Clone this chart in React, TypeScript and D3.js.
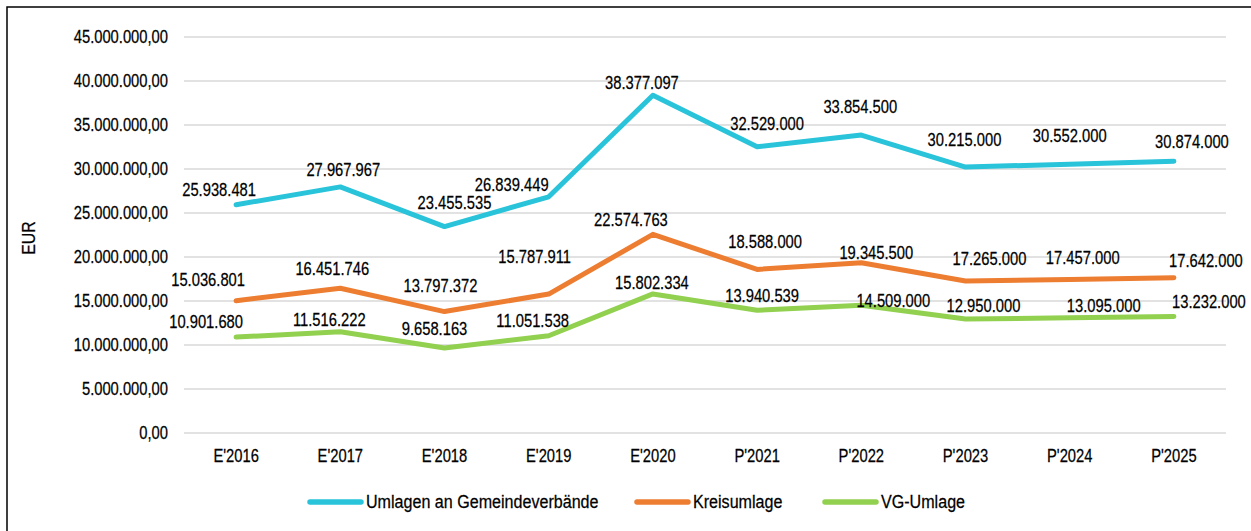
import React from "react";
import * as d3 from "d3";

const categories = ["E'2016", "E'2017", "E'2018", "E'2019", "E'2020", "P'2021", "P'2022", "P'2023", "P'2024", "P'2025"];
const umlagenGemeindeverbaende = [25938481, 27967967, 23455535, 26839449, 38377097, 32529000, 33854500, 30215000, 30552000, 30874000];
const kreisumlage = [15036801, 16451746, 13797372, 15787911, 22574763, 18588000, 19345500, 17265000, 17457000, 17642000];
const vgUmlage = [10901680, 11516222, 9658163, 11051538, 15802334, 13940539, 14509000, 12950000, 13095000, 13232000];
const yTicks = [0, 5000000, 10000000, 15000000, 20000000, 25000000, 30000000, 35000000, 40000000, 45000000];
const seriesNames = ["Umlagen an Gemeindeverbände", "Kreisumlage", "VG-Umlage"];

// label nudges (layout only), in px relative to each point
const cyanLabelDx = [-17, 3, 10, -37, -11, 10, -1, -1, 0, 18];
const cyanLabelDy = [-15, -17, -24, -12, -13, -23, -28, -27, -28, -20];
const orangeLabelDx = [-28, -8, -4, -14, -22, 8, 15, 24, 13, 32];
const orangeLabelDy = [-21, -20, -26, -37, -15, -28, -10, -22, -22, -17];
const greenLabelDx = [-30, -11, -10, -16, -1, 5, 32, 18, 34, 35];
const greenLabelDy = [-15, -12, -19, -15, -11, -15, -5, -13, -12, -15];

const W = 1251;
const H = 531;
const FONT = "'Liberation Sans', Arial, sans-serif";

const locale = d3.formatLocale({ decimal: ",", thousands: ".", grouping: [3], currency: ["", " €"] });
const fmtLabel = locale.format(",.0f");
const fmtTick = locale.format(",.2f");

function NText(props: {
  x: number;
  y: number;
  size: number;
  anchor?: string;
  rotate?: number;
  sx?: number;
  children: React.ReactNode;
}) {
  const { x, y, size, anchor = "middle", rotate = 0, sx = 0.82, children } = props;
  return (
    <text
      transform={`translate(${x},${y}) rotate(${rotate}) scale(${sx},1)`}
      dy="0.35em"
      textAnchor={anchor}
      fontSize={size}
      fill="#000"
      stroke="#000"
      strokeWidth={0.25}
    >
      {children}
    </text>
  );
}

export default function App() {
  const x = d3.scalePoint<string>().domain(categories).range([184, 1226]).padding(0.5);
  const y = d3.scaleLinear().domain([0, 45000000]).range([433, 37]);
  const line = d3
    .line<number>()
    .x((_, i) => x(categories[i]) as number)
    .y((d) => y(d));

  const series = [
    { name: seriesNames[0], values: umlagenGemeindeverbaende, color: "#29C3DA", dx: cyanLabelDx, dy: cyanLabelDy },
    { name: seriesNames[1], values: kreisumlage, color: "#ED7D31", dx: orangeLabelDx, dy: orangeLabelDy },
    { name: seriesNames[2], values: vgUmlage, color: "#92D050", dx: greenLabelDx, dy: greenLabelDy },
  ];

  const legendX = [310, 637, 825];

  return (
    <svg
      width={W}
      height={H}
      style={{ position: "absolute", left: 0, top: 0, background: "#fff" }}
      fontFamily={FONT}
    >
      <rect x={0} y={0} width={W} height={H} fill="#fff" />
      <rect x={7} y={7} width={1280} height={560} fill="none" stroke="#000" strokeWidth={1.5} />

      {yTicks.map((t) => (
        <g key={t}>
          <line x1={184} x2={1226} y1={y(t)} y2={y(t)} stroke="#D9D9D9" strokeWidth={1.5} />
          <NText x={168} y={y(t)} size={18} anchor="end">
            {fmtTick(t)}
          </NText>
        </g>
      ))}

      <NText x={29} y={238} size={18} rotate={-90} sx={0.88}>
        EUR
      </NText>

      {categories.map((c) => (
        <NText key={c} x={x(c) as number} y={456} size={18}>
          {c}
        </NText>
      ))}

      {series.map((s) => (
        <path
          key={s.name}
          d={line(s.values) || ""}
          fill="none"
          stroke={s.color}
          strokeWidth={5}
          strokeLinecap="round"
          strokeLinejoin="round"
        />
      ))}

      {series.map((s) =>
        s.values.map((v, i) => (
          <NText key={s.name + i} x={(x(categories[i]) as number) + s.dx[i]} y={y(v) + s.dy[i]} size={18}>
            {fmtLabel(v)}
          </NText>
        ))
      )}

      {series.map((s, i) => (
        <g key={"lg" + s.name}>
          <line x1={legendX[i]} x2={legendX[i] + 51} y1={502} y2={502} stroke={s.color} strokeWidth={5.5} strokeLinecap="round" />
          <NText x={legendX[i] + 56} y={502} size={18.5} anchor="start" sx={0.87}>
            {s.name}
          </NText>
        </g>
      ))}
    </svg>
  );
}
